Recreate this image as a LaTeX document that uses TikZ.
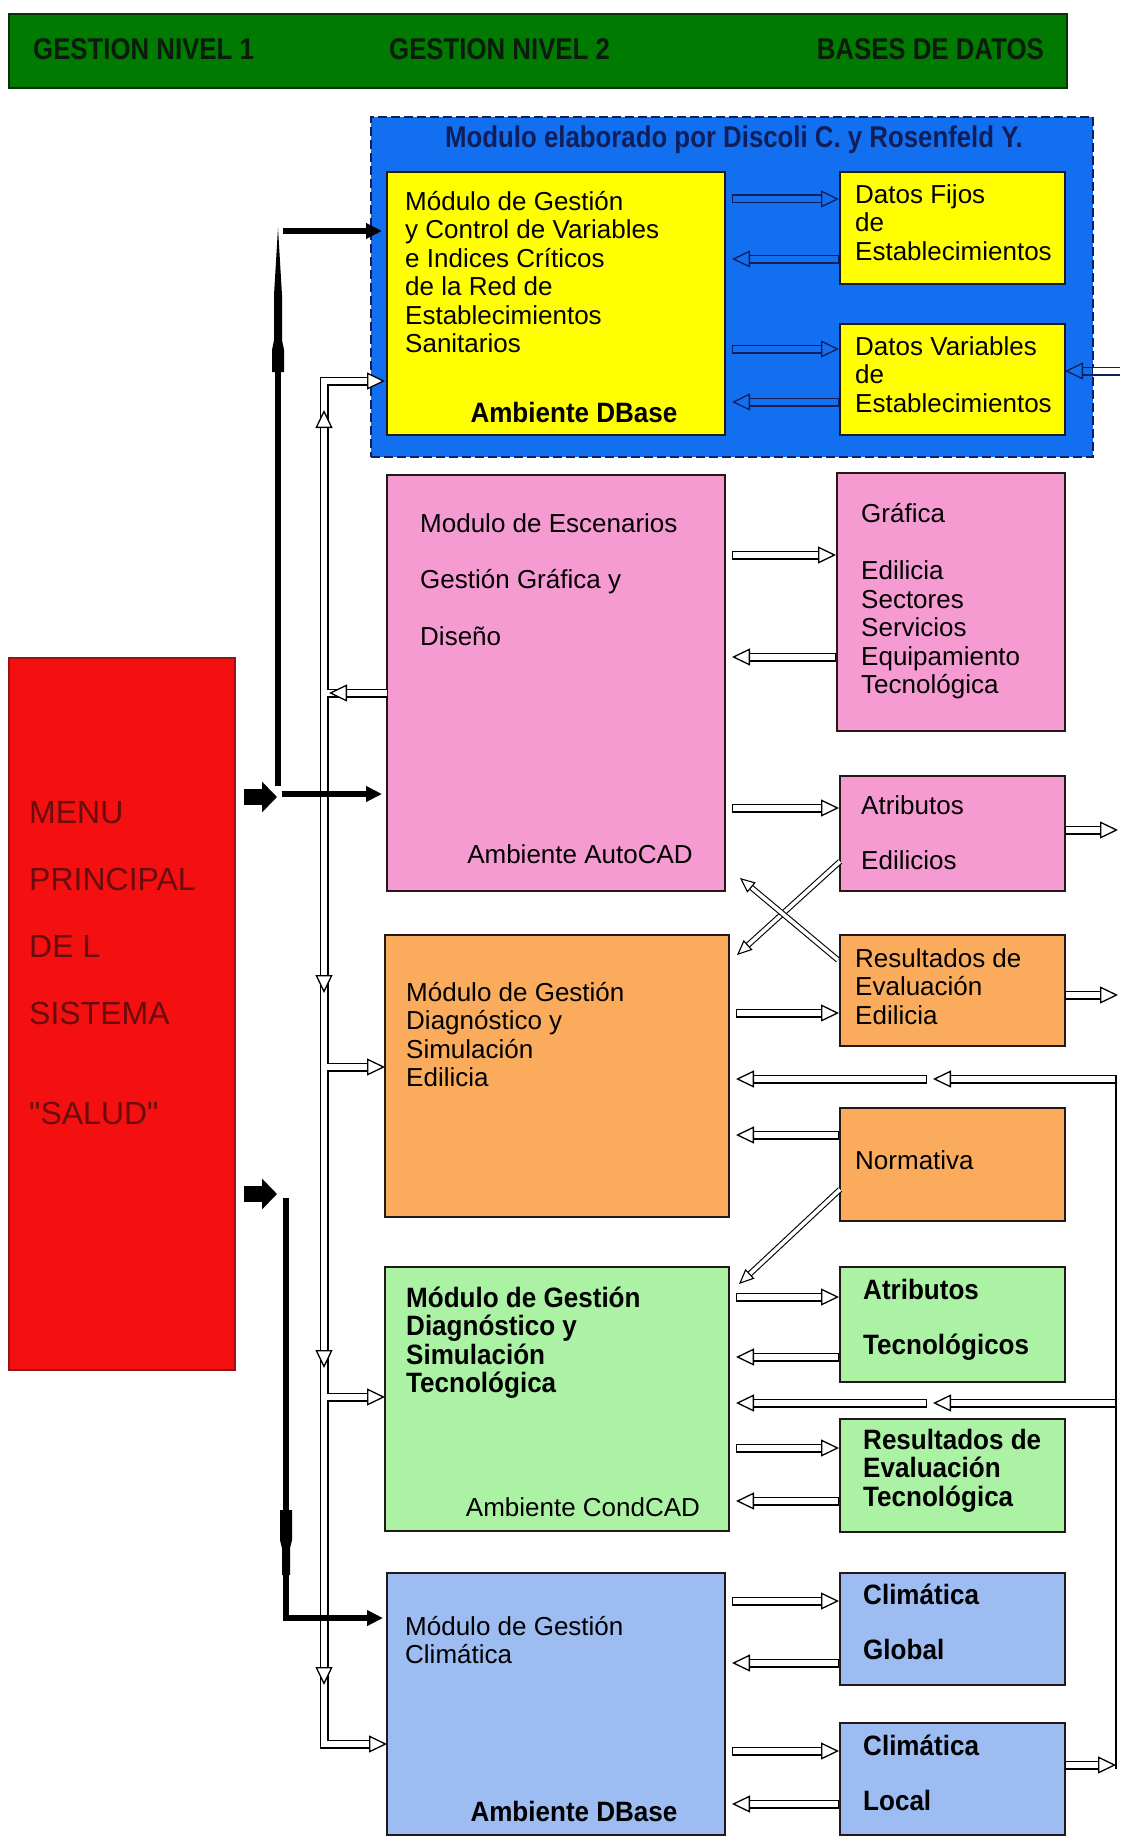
\documentclass[tikz,border=0pt]{standalone}
\usepackage{fontspec}
\setmainfont{Liberation Sans}
\newfontfamily\condfont[FakeStretch=0.86]{Liberation Sans}
\newfontfamily\bcondfont[FakeStretch=0.93]{Liberation Sans}
\newfontfamily\nomapfont[Ligatures=TeXOff]{Liberation Sans}
\usetikzlibrary{arrows.meta,calc}
\definecolor{hdrgreen}{RGB}{0,122,0}
\definecolor{hdrborder}{RGB}{10,50,10}
\definecolor{hdrtext}{RGB}{12,28,12}
\definecolor{boxblue}{RGB}{18,112,240}
\definecolor{navyline}{RGB}{16,30,90}
\definecolor{ybox}{RGB}{255,255,0}
\definecolor{pbox}{RGB}{245,155,210}
\definecolor{obox}{RGB}{250,172,92}
\definecolor{gbox}{RGB}{172,242,164}
\definecolor{lbbox}{RGB}{156,188,242}
\definecolor{rbox}{RGB}{244,16,16}
\definecolor{rborder}{RGB}{150,20,20}
\definecolor{rtext}{RGB}{105,12,12}
\definecolor{edge}{RGB}{35,25,25}
\newcommand{\rfont}{\fontsize{26}{28.5}\selectfont\lineskiplimit=-100pt\relax}
\newcommand{\bfont}{\bcondfont\bfseries\fontsize{28}{28.5}\selectfont\lineskiplimit=-100pt\relax}
\newcommand{\hfont}{\condfont\bfseries\fontsize{30}{32}\selectfont}
\newcommand{\redfont}{\nomapfont\fontsize{32}{67}\selectfont\lineskiplimit=-100pt\relax}
\newcommand{\tst}{\rule{0pt}{22pt}}
\newcommand{\mkbox}[7][edge]{\node[box, draw=#1, fill=#7, minimum width={(#4-#2)*1pt}, minimum height={(#5-#3)*1pt}] (#6) at (#2,#3) {};}
\newcommand{\rarr}[4][hol]{\draw[#1] ($(#2.east |- 0,#4)+(7,0)$) -- ($(#3.west |- 0,#4)+(-1,0)$);}
\newcommand{\larr}[4][hol]{\draw[#1] ($(#3.west |- 0,#4)+(-1,0)$) -- ($(#2.east |- 0,#4)+(7,0)$);}
\begin{document}
\begin{tikzpicture}[x=1pt,y=-1pt,
  box/.style={anchor=north west, inner sep=0pt, outer sep=0pt, line width=1.5pt},
  txt/.style={anchor=north west, inner sep=0pt, align=left, font=\rfont},
  btxt/.style={anchor=north west, inner sep=0pt, align=left, font=\bfont},
  holnb/.style={draw=black, line width=1.3pt, double=white, double distance=6.4pt,
    -{Triangle[length=18pt,width=17pt,line width=1.3pt,fill=white]}},
  hol/.style={draw=black, line width=1.3pt, double=white, double distance=6.4pt,
    {Bar[width=9pt,line width=1.3pt]}-{Triangle[length=18pt,width=17pt,line width=1.3pt,fill=white]}},
  holb/.style={draw=navyline, line width=1.3pt, double=boxblue, double distance=6.4pt,
    {Bar[width=9pt,line width=1.3pt]}-{Triangle[length=18pt,width=17pt,line width=1.3pt,fill=boxblue]}},
  hols/.style={draw=black, line width=1.1pt, double=white, double distance=3.6pt,
    -{Triangle[length=15pt,width=13pt,line width=1.1pt,fill=white]}},
  blk/.style={line width=5.5pt, line join=miter, -{Triangle[length=16pt,width=15pt]}},
  block/.style={line width=16pt, -{Triangle[length=15pt,width=30pt]}}
]
\useasboundingbox (0,0) rectangle (1120,1838);
\fill[white] (0,0) rectangle (1120,1838);

% header
\node[box, draw=hdrborder, fill=hdrgreen, minimum width=1058pt, minimum height=74pt] (header) at (9,14) {};
\node[anchor=base west, inner sep=0pt, font=\hfont, text=hdrtext] (h1) at (33,60) {GESTION NIVEL 1};
\node[anchor=base west, inner sep=0pt, font=\hfont, text=hdrtext] (h2) at (389,60) {GESTION NIVEL 2};
\node[anchor=base east, inner sep=0pt, font=\hfont, text=hdrtext] (h3) at (1044,60) {BASES DE DATOS};

% blue module frame
\node[box, draw=navyline, dashed, dash pattern=on 9pt off 4pt, line width=2pt, fill=boxblue, minimum width=722pt, minimum height=340pt] (bluebox) at (371,117) {};
\node[anchor=base, inner sep=0pt, font=\condfont\bfseries\fontsize{30}{32}\selectfont, text=navyline] (title) at (734,148) {Modulo elaborado por Discoli C. y Rosenfeld Y.};

% boxes
\mkbox{387}{172}{725}{435}{yellowbig}{ybox}
\mkbox{840}{172}{1065}{284}{datosfijos}{ybox}
\mkbox{840}{324}{1065}{435}{datosvar}{ybox}
\mkbox{387}{475}{725}{891}{pinkbig}{pbox}
\mkbox{837}{473}{1065}{731}{grafica}{pbox}
\mkbox{840}{776}{1065}{891}{atribed}{pbox}
\mkbox{385}{935}{729}{1217}{orangebig}{obox}
\mkbox{840}{935}{1065}{1046}{resed}{obox}
\mkbox{840}{1108}{1065}{1221}{normativa}{obox}
\mkbox{385}{1267}{729}{1531}{greenbig}{gbox}
\mkbox{840}{1267}{1065}{1382}{atribtec}{gbox}
\mkbox{840}{1419}{1065}{1532}{restec}{gbox}
\mkbox{387}{1573}{725}{1835}{bluebig}{lbbox}
\mkbox{840}{1573}{1065}{1685}{climglobal}{lbbox}
\mkbox{840}{1723}{1065}{1835}{climlocal}{lbbox}
\mkbox[rborder]{9}{658}{235}{1370}{red}{rbox}

% texts
\node[txt] (tyb) at (405,188) {\tst Módulo de Gestión\\y Control de Variables\\e Indices Críticos\\de la Red de\\Establecimientos\\Sanitarios};
\node[anchor=base, inner sep=0pt, font=\bfont] (tyb2) at (574,422) {Ambiente DBase};
\node[txt] (tdf) at (855,181) {\tst Datos Fijos\\de\\Establecimientos};
\node[txt] (tdv) at (855,333) {\tst Datos Variables\\de\\Establecimientos};
\node[txt] (tpb) at (420,510) {\tst Modulo de Escenarios\\[28pt]Gestión Gráfica y\\[28pt]Diseño};
\node[anchor=base, inner sep=0pt, font=\rfont] (tpb2) at (580,863) {Ambiente AutoCAD};
\node[txt] (tgr) at (861,500) {\tst Gráfica\\[29pt]Edilicia\\Sectores\\Servicios\\Equipamiento\\Tecnológica};
\node[txt] (tae) at (861,792) {\tst Atributos\\[27pt]Edilicios};
\node[txt] (tob) at (406,979) {\tst Módulo de Gestión\\Diagnóstico y\\Simulación\\Edilicia};
\node[txt] (tre) at (855,945) {\tst Resultados de\\Evaluación\\Edilicia};
\node[txt] (tno) at (855,1147) {\tst Normativa};
\node[btxt] (tgb) at (406,1285) {\tst Módulo de Gestión\\Diagnóstico y\\Simulación\\Tecnológica};
\node[anchor=base, inner sep=0pt, font=\rfont] (tgb2) at (583,1516) {Ambiente CondCAD};
\node[btxt] (tat) at (863,1277) {\tst Atributos\\[27pt]Tecnológicos};
\node[btxt] (trt) at (863,1427) {\tst Resultados de\\Evaluación\\Tecnológica};
\node[txt] (tlb) at (405,1613) {\tst Módulo de Gestión\\Climática};
\node[anchor=base, inner sep=0pt, font=\bfont] (tlb2) at (574,1821) {Ambiente DBase};
\node[btxt] (tcg) at (863,1582) {\tst Climática\\[27pt]Global};
\node[btxt] (tcl) at (863,1733) {\tst Climática\\[27pt]Local};
\node[anchor=north west, inner sep=0pt, align=left, font=\redfont, text=rtext] (tred) at (29,793) {\rule{0pt}{30pt}MENU\\PRINCIPAL\\DE L\\SISTEMA\\[33pt]"SALUD"};

% arrows inside the blue frame
\rarr[holb]{yellowbig}{datosfijos}{199}
\larr[holb]{yellowbig}{datosfijos}{259}
\rarr[holb]{yellowbig}{datosvar}{349}
\larr[holb]{yellowbig}{datosvar}{402}
\coordinate (eR1) at (1120,371);
\draw[draw=navyline, line width=1.3pt, double=white, double distance=6.4pt] (eR1) -- (bluebox.east |- eR1);
\draw[holb] (bluebox.east |- eR1) -- (datosvar.east |- eR1);

% pink group
\rarr{pinkbig}{grafica}{555}
\larr{pinkbig}{grafica}{657}
\rarr{pinkbig}{atribed}{808}
% orange group
\rarr{orangebig}{resed}{1013}
\larr{orangebig}{normativa}{1135}
% green group
\rarr{greenbig}{atribtec}{1297}
\larr{greenbig}{atribtec}{1357}
\rarr{greenbig}{restec}{1448}
\larr{greenbig}{restec}{1501}
% light blue group
\rarr{bluebig}{climglobal}{1601}
\larr{bluebig}{climglobal}{1663}
\rarr{bluebig}{climlocal}{1751}
\larr{bluebig}{climlocal}{1804}

% diagonals
\draw[hols] ($(atribed.west)+(0,28)$) -- ($(orangebig.north east)+(8,20)$);
\draw[hols] ($(resed.north west)+(-2,25)$) -- ($(pinkbig.south east)+(15,-13)$);
\draw[hols] ($(normativa.west)+(0,25)$) -- ($(greenbig.north east)+(10,17)$);

% right side
\coordinate (eR2) at (1118,830);
\coordinate (eR3) at (1118,995);
\coordinate (rvTop) at (1116,1079);
\coordinate (rvMid) at (1116,1403);
\coordinate (rvBot) at (1116,1765);
\coordinate (mj1) at (930,1079);
\coordinate (mj2) at (930,1403);
\draw[hol] (atribed.east |- eR2) -- (eR2);
\draw[hol] (resed.east |- eR3) -- (eR3);
\draw[hol] (climlocal.east |- rvBot) -- (rvBot);
\draw[hol] (rvTop) -- ($(mj1)+(3,0)$);
\draw[hol] ($(mj1)+(-3,0)$) -- ($(orangebig.east |- mj1)+(7,0)$);
\draw[hol] (rvMid) -- ($(mj2)+(3,0)$);
\draw[hol] ($(mj2)+(-3,0)$) -- ($(greenbig.east |- mj2)+(7,0)$);
\draw[line width=1.8pt] ($(rvTop)+(0,-4)$) -- ($(rvBot)+(0,4)$);

% left hollow network
\coordinate (lTop) at (324,381);
\coordinate (lBot) at (324,1744);
\coordinate (lj1) at (324,693);
\coordinate (lj2) at (324,1067);
\coordinate (lj3) at (324,1397);
\foreach \w/\c in {9pt/black, 6.4pt/white}{
  \draw[line width=\w, draw=\c, line join=miter] ($(yellowbig.west |- lTop)+(-14,0)$) -- (lTop) -- (lBot) -- ($(bluebig.west |- lBot)+(-14,0)$);
  \draw[line width=\w, draw=\c] (lj1) -- (pinkbig.west |- lj1);
  \draw[line width=\w, draw=\c] (lj2) -- ($(orangebig.west |- lj2)+(-14,0)$);
  \draw[line width=\w, draw=\c] (lj3) -- ($(greenbig.west |- lj3)+(-14,0)$);
}
\draw[holnb] ($(yellowbig.west |- lTop)+(-26,0)$) -- ($(yellowbig.west |- lTop)+(-2,0)$);
\draw[holnb] ($(pinkbig.west |- lj1)+(-26,0)$) -- ($(lj1)+(5,0)$);
\draw[holnb] ($(orangebig.west |- lj2)+(-26,0)$) -- (orangebig.west |- lj2);
\draw[holnb] ($(greenbig.west |- lj3)+(-26,0)$) -- (greenbig.west |- lj3);
\draw[holnb] ($(bluebig.west |- lBot)+(-26,0)$) -- (bluebig.west |- lBot);
\coordinate (mk1) at (324,410);
\coordinate (mk2) at (324,993);
\coordinate (mk3) at (324,1368);
\coordinate (mk4) at (324,1685);
\draw[holnb] ($(mk1)+(0,30)$) -- (mk1);
\draw[holnb] ($(mk2)+(0,-30)$) -- (mk2);
\draw[holnb] ($(mk3)+(0,-30)$) -- (mk3);
\draw[holnb] ($(mk4)+(0,-30)$) -- (mk4);

% black thick arrows
\coordinate (ba1) at (277,797);
\coordinate (ba2) at (277,1194);
\draw[block] ($(red.east |- ba1)+(9,0)$) -- (ba1);
\draw[block] ($(red.east |- ba2)+(9,0)$) -- (ba2);
\draw[blk] (282,794) -- ($(pinkbig.west |- 0,794)+(-5,0)$);
\draw[line width=5.5pt] (278,786) -- (278,360);
\fill (272,372) -- (284,372) -- (284,350) -- (282,340) -- (282,295) -- (278,228) -- (274,295) -- (274,340) -- (272,350) -- cycle;
\draw[blk] (283,231) -- ($(yellowbig.west |- 0,231)+(-5,0)$);
\draw[blk] (286,1198) -- (286,1618) -- ($(bluebig.west |- 0,1618)+(-4,0)$);
\fill (280,1510) -- (292,1510) -- (292,1540) -- (290,1548) -- (290,1575) -- (282,1575) -- (282,1548) -- (280,1540) -- cycle;
\end{tikzpicture}
\end{document}
